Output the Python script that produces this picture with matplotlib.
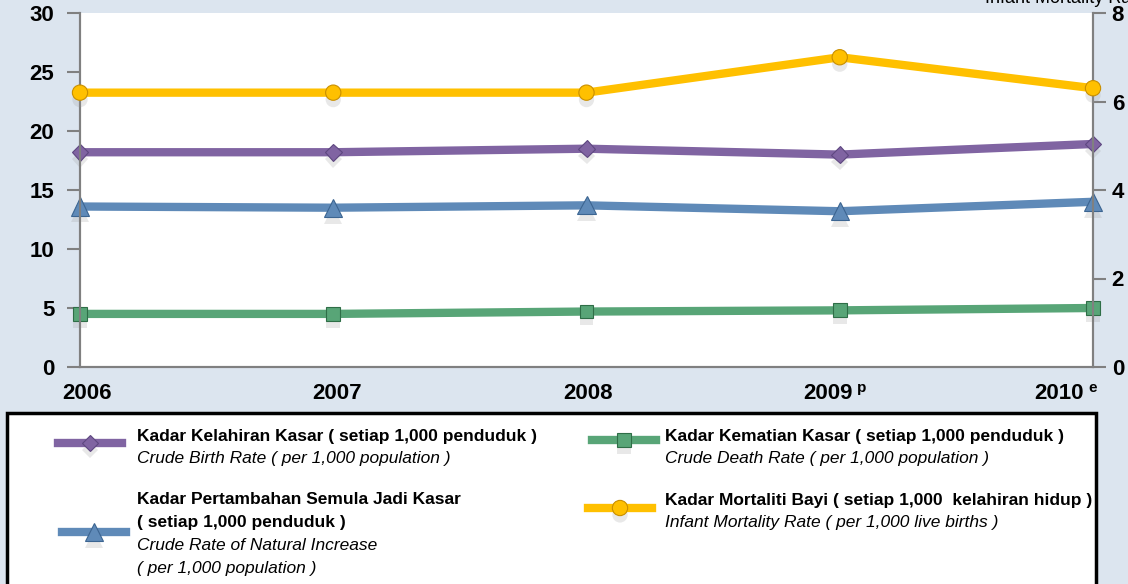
import matplotlib
matplotlib.use('Agg')
import matplotlib.pyplot as plt
import matplotlib.patheffects as pe
from matplotlib.lines import Line2D
from matplotlib.patches import Rectangle
import matplotlib.transforms as mtransforms

plt.rcParams['font.family'] = ['Liberation Sans Narrow', 'Liberation Sans', 'DejaVu Sans']

years = [2006, 2007, 2008, 2009, 2010]
year_notes = ['', '', '', 'p', 'e']
birth = [18.2, 18.2, 18.5, 18.0, 18.9]
natural = [13.6, 13.5, 13.7, 13.2, 14.0]
death = [4.5, 4.5, 4.7, 4.8, 5.0]
infant = [6.2, 6.2, 6.2, 7.0, 6.3]

left_ticks = [0, 5, 10, 15, 20, 25, 30]
right_ticks = [0, 2, 4, 6, 8]

bg = '#dce5ef'
grey = '#808080'
c_birth, c_nat, c_death, c_inf = '#8064a2', '#5f8ab8', '#58a577', '#ffc000'

W, H = 1128, 584
fig = plt.figure(figsize=(W / 100, H / 100), dpi=100, facecolor=bg)


def fx(px):
    return px / W


def fy(py):
    return 1 - py / H


ax = fig.add_axes([fx(80), fy(367), fx(1093 - 80), (367 - 13) / H])
ax.set_facecolor('white')
ax2 = ax.twinx()

shadow = [pe.SimplePatchShadow(offset=(0, -5), shadow_rgbFace='#9a9a9a', alpha=0.22), pe.Normal()]

series = [
    (ax, birth, c_birth, 'D', 8.5, '#5e4780'),
    (ax, natural, c_nat, '^', 13, '#3c6591'),
    (ax, death, c_death, 's', 10, '#2f6e47'),
    (ax2, infant, c_inf, 'o', 11, '#c98f00'),
]
for a, vals, col, mk, ms, ec in series:
    a.plot(years, vals, color=col, lw=6, solid_joinstyle='round', zorder=2)
    a.plot(years, vals, ls='none', marker=mk, ms=ms, mfc=col, mec=ec, mew=0.8,
           zorder=3, path_effects=shadow, clip_on=False)

ax.set_xlim(2006, 2010)
ax.set_ylim(0, 30)
ax2.set_ylim(0, 8)
ax.set_yticks(left_ticks)
ax2.set_yticks(right_ticks)
ax.set_xticks([])

for a in (ax, ax2):
    for s in a.spines.values():
        s.set_color(grey)
        s.set_linewidth(1.5)
    a.spines['top'].set_visible(False)
ax.tick_params(axis='y', length=9.5, width=1.5, color=grey, pad=9,
               labelsize=16)
ax2.tick_params(axis='y', length=9.5, width=1.5, color=grey, pad=4,
                labelsize=16)
for lab in ax.get_yticklabels() + ax2.get_yticklabels():
    lab.set_fontweight('bold')

# year labels under the axis
trans = mtransforms.blended_transform_factory(ax.transData, ax.transAxes)
offsets = [7, 4, 1, -12, -34]
for yr, note, dx in zip(years, year_notes, offsets):
    off = mtransforms.offset_copy(trans, fig=fig, x=dx * 0.72, y=-1.5, units='points')
    ax.text(yr, -0.07, str(yr), transform=off, ha='center', va='center',
            fontsize=16, fontweight='bold', clip_on=False)
    if note:
        off2 = mtransforms.offset_copy(trans, fig=fig, x=(dx + 34) * 0.72, y=3, units='points')
        ax.text(yr, -0.07, note, transform=off2, ha='center', va='center',
                fontsize=11, fontweight='bold', clip_on=False)

fig.text(fx(985), fy(3), 'Infant Mortality Rate', fontsize=13, va='baseline')

# legend box
fig.add_artist(Rectangle((fx(7), -0.05), fx(1096 - 7), fy(413) + 0.05,
                         transform=fig.transFigure, facecolor='white',
                         edgecolor='black', lw=2.5, zorder=5))

legend_items = [
    (c_birth, 'D', 8.5, '#5e4780', 58, 443, 137,
     ['Kadar Kelahiran Kasar ( setiap 1,000 penduduk )'],
     ['Crude Birth Rate ( per 1,000 population )'], 437),
    (c_nat, '^', 13, '#3c6591', 62, 532, 137,
     ['Kadar Pertambahan Semula Jadi Kasar', '( setiap 1,000 penduduk )'],
     ['Crude Rate of Natural Increase', '( per 1,000 population )'], 500),
    (c_death, 's', 10, '#2f6e47', 592, 440, 665,
     ['Kadar Kematian Kasar ( setiap 1,000 penduduk )'],
     ['Crude Death Rate ( per 1,000 population )'], 437),
    (c_inf, 'o', 11, '#c98f00', 588, 508, 665,
     ['Kadar Mortaliti Bayi ( setiap 1,000  kelahiran hidup )'],
     ['Infant Mortality Rate ( per 1,000 live births )'], 500),
]
for col, mk, ms, ec, lx, ly, tx, bold_lines, ital_lines, ty in legend_items:
    fig.add_artist(Line2D([fx(lx), fx(lx + 64)], [fy(ly), fy(ly)], color=col, lw=6,
                          transform=fig.transFigure, zorder=6))
    fig.add_artist(Line2D([fx(lx + 32)], [fy(ly)], ls='none', marker=mk, ms=ms, mfc=col,
                          mec=ec, mew=0.8, transform=fig.transFigure, zorder=7,
                          path_effects=shadow))
    y = ty
    for line in bold_lines:
        fig.text(fx(tx), fy(y), line, fontsize=12.5, fontweight='bold', va='center', zorder=8)
        y += 23
    for line in ital_lines:
        fig.text(fx(tx), fy(y - 1), line, fontsize=12.5, style='italic', va='center', zorder=8)
        y += 24

fig.savefig('out.png', dpi=100, facecolor=bg)
